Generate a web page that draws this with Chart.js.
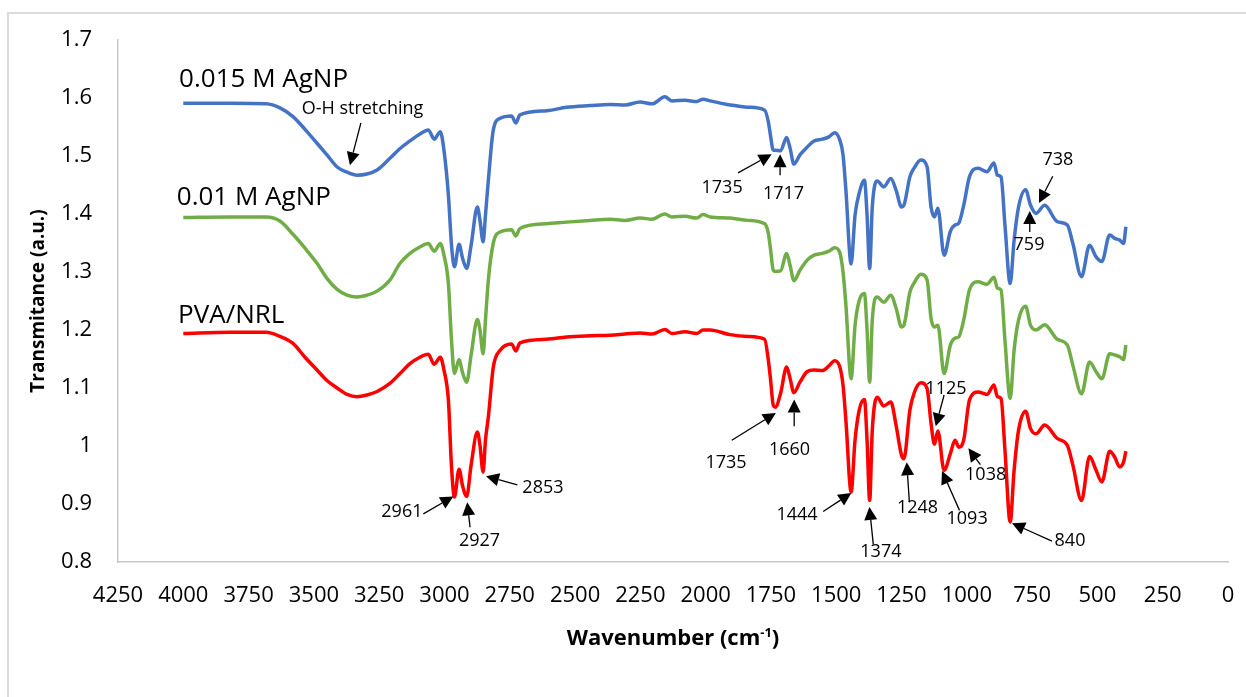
<!DOCTYPE html>
<html>
<head>
<meta charset="utf-8">
<title>FTIR spectra</title>
<script src="https://cdn.jsdelivr.net/npm/chart.js@4.4.1/dist/chart.umd.min.js"></script>
<style>
  html, body { margin: 0; padding: 0; background: #fff; }
  #wrap { position: relative; width: 1246px; height: 697px; overflow: hidden; }
  #frame { position: absolute; left: 7px; top: 12px; width: 1400px; height: 900px; border: 2px solid #dadada; box-sizing: border-box; }
  canvas { position: absolute; left: 0; top: 0; }
</style>
</head>
<body>
<div id="wrap">
  <div id="frame"></div>
  <canvas id="ftirChart" width="1246" height="697"></canvas>
</div>
<script>
// wavenumber (cm-1) shared by the three spectra
const wavenumber = [
  4000, 3821, 3683, 3630, 3580, 3534, 3488, 3450, 3411, 3373,
  3335, 3297, 3258, 3209, 3170, 3132, 3094, 3062, 3039, 3016,
  3002, 2985, 2973, 2962, 2944, 2931, 2915, 2898, 2874, 2864,
  2852, 2843, 2832, 2813, 2787, 2743, 2727, 2711, 2609, 2532,
  2443, 2366, 2309, 2251, 2205, 2156, 2129, 2079, 2034, 2010,
  1983, 1907, 1838, 1774, 1760, 1752, 1741, 1733, 1713, 1690,
  1677, 1662, 1639, 1612, 1585, 1553, 1528, 1506, 1486, 1474,
  1463, 1443, 1428, 1412, 1392, 1382, 1372, 1362, 1343, 1318,
  1291, 1271, 1250, 1241, 1218, 1202, 1176, 1152, 1137, 1124,
  1111, 1087, 1063, 1045, 1031, 1012, 990, 957, 923, 896,
  883, 869, 854, 834, 819, 802, 775, 756, 735, 702,
  654, 615, 594, 561, 530, 505, 483, 453, 434, 415,
  400, 391
];

const agnp015 = [
  1.591, 1.591, 1.590, 1.583, 1.568, 1.546, 1.522, 1.502, 1.481, 1.472,
  1.467, 1.469, 1.476, 1.496, 1.513, 1.526, 1.538, 1.545, 1.529, 1.542,
  1.510, 1.433, 1.346, 1.309, 1.348, 1.324, 1.306, 1.346, 1.412, 1.389,
  1.352, 1.398, 1.458, 1.545, 1.565, 1.569, 1.557, 1.571, 1.578, 1.584,
  1.587, 1.589, 1.588, 1.593, 1.590, 1.602, 1.595, 1.596, 1.594, 1.598,
  1.595, 1.588, 1.584, 1.579, 1.559, 1.536, 1.510, 1.510, 1.509, 1.532,
  1.514, 1.486, 1.502, 1.515, 1.526, 1.529, 1.533, 1.540, 1.527, 1.502,
  1.441, 1.314, 1.398, 1.436, 1.458, 1.398, 1.306, 1.412, 1.457, 1.447,
  1.461, 1.441, 1.412, 1.415, 1.464, 1.479, 1.493, 1.481, 1.412, 1.395,
  1.410, 1.329, 1.370, 1.381, 1.384, 1.415, 1.464, 1.479, 1.473, 1.488,
  1.467, 1.464, 1.381, 1.280, 1.355, 1.412, 1.442, 1.415, 1.401, 1.415,
  1.387, 1.381, 1.349, 1.292, 1.346, 1.326, 1.318, 1.364, 1.358, 1.355,
  1.349, 1.378
];

const agnp010 = [
  1.394, 1.395, 1.395, 1.388, 1.365, 1.341, 1.315, 1.289, 1.270, 1.260,
  1.257, 1.260, 1.267, 1.286, 1.315, 1.332, 1.343, 1.349, 1.336, 1.349,
  1.329, 1.280, 1.182, 1.125, 1.149, 1.127, 1.110, 1.157, 1.218, 1.200,
  1.159, 1.217, 1.286, 1.350, 1.369, 1.373, 1.362, 1.375, 1.383, 1.386,
  1.389, 1.391, 1.389, 1.393, 1.391, 1.400, 1.395, 1.396, 1.393, 1.399,
  1.395, 1.393, 1.389, 1.383, 1.367, 1.341, 1.303, 1.301, 1.302, 1.332,
  1.312, 1.285, 1.303, 1.320, 1.329, 1.332, 1.336, 1.342, 1.333, 1.300,
  1.243, 1.116, 1.208, 1.251, 1.263, 1.200, 1.110, 1.217, 1.257, 1.248,
  1.260, 1.238, 1.205, 1.208, 1.265, 1.281, 1.296, 1.286, 1.220, 1.205,
  1.208, 1.125, 1.174, 1.186, 1.188, 1.217, 1.269, 1.283, 1.279, 1.291,
  1.272, 1.269, 1.182, 1.082, 1.165, 1.217, 1.241, 1.208, 1.200, 1.209,
  1.184, 1.174, 1.139, 1.090, 1.145, 1.128, 1.116, 1.159, 1.157, 1.154,
  1.149, 1.174
];

const pvaNrl = [
  1.194, 1.196, 1.196, 1.189, 1.177, 1.153, 1.131, 1.113, 1.100, 1.089,
  1.085, 1.088, 1.094, 1.108, 1.125, 1.142, 1.153, 1.158, 1.141, 1.153,
  1.131, 1.079, 0.964, 0.912, 0.960, 0.932, 0.913, 0.967, 1.024, 1.001,
  0.955, 1.010, 1.050, 1.136, 1.165, 1.176, 1.164, 1.178, 1.184, 1.188,
  1.190, 1.191, 1.193, 1.195, 1.193, 1.201, 1.194, 1.197, 1.194, 1.200,
  1.200, 1.192, 1.189, 1.184, 1.148, 1.117, 1.070, 1.067, 1.091, 1.136,
  1.117, 1.092, 1.110, 1.128, 1.131, 1.130, 1.138, 1.147, 1.136, 1.105,
  1.044, 0.921, 1.010, 1.062, 1.080, 1.010, 0.906, 1.027, 1.084, 1.069,
  1.076, 1.036, 0.984, 0.978, 1.062, 1.091, 1.109, 1.099, 1.039, 1.003,
  1.026, 0.958, 0.987, 1.010, 0.998, 1.010, 1.079, 1.093, 1.089, 1.105,
  1.085, 1.082, 0.993, 0.869, 0.958, 1.027, 1.060, 1.030, 1.021, 1.036,
  1.013, 1.001, 0.967, 0.906, 0.982, 0.958, 0.938, 0.991, 0.981, 0.964,
  0.972, 0.991
];

const seriesNames = ['0.015 M AgNP', '0.01 M AgNP', 'PVA/NRL'];
const seriesColors = ['#4472C4', '#70AD47', '#FF0000'];
// where each series name is written (wavenumber, transmittance), left aligned
const seriesNamePos = [[4016, 1.631], [4025, 1.429], [4020, 1.224]];

const xTicks = [4250, 4000, 3750, 3500, 3250, 3000, 2750, 2500, 2250, 2000, 1750, 1500, 1250, 1000, 750, 500, 250, 0];
const yTicks = [0.8, 0.9, 1, 1.1, 1.2, 1.3, 1.4, 1.5, 1.6, 1.7];

// peak labels: text centre, arrow tail, arrow tip (all in data units)
const peakNotes = [
  { text: 'O-H stretching', at: [3314, 1.581], from: [3320, 1.557], to: [3362, 1.484] },
  { text: '1735', at: [1937, 1.445], from: [1876, 1.471], to: [1747, 1.503] },
  { text: '1717', at: [1702, 1.434], from: [1715, 1.467], to: [1715, 1.503] },
  { text: '738', at: [651, 1.493], from: [671, 1.465], to: [724, 1.419] },
  { text: '759', at: [762, 1.346], from: [759, 1.369], to: [759, 1.405] },
  { text: '2961', at: [3163, 0.887], from: [3081, 0.883], to: [2966, 0.913] },
  { text: '2927', at: [2866, 0.837], from: [2902, 0.860], to: [2913, 0.903] },
  { text: '2853', at: [2623, 0.928], from: [2721, 0.933], to: [2841, 0.948] },
  { text: '1735', at: [1922, 0.971], from: [1900, 1.010], to: [1731, 1.057] },
  { text: '1660', at: [1679, 0.994], from: [1661, 1.034], to: [1661, 1.080] },
  { text: '1444', at: [1650, 0.881], from: [1550, 0.887], to: [1442, 0.919] },
  { text: '1374', at: [1329, 0.818], from: [1358, 0.830], to: [1373, 0.895] },
  { text: '1248', at: [1189, 0.893], from: [1220, 0.903], to: [1230, 0.972] },
  { text: '1125', at: [1080, 1.098], from: [1087, 1.088], to: [1119, 1.034] },
  { text: '1093', at: [999, 0.875], from: [1028, 0.889], to: [1095, 0.957] },
  { text: '1038', at: [928, 0.950], from: [948, 0.968], to: [994, 0.996] },
  { text: '840', at: [605, 0.836], from: [674, 0.836], to: [827, 0.867] }
];

const FONT = "'Open Sans', 'Noto Sans', sans-serif";

function toPoints(values) {
  return wavenumber.map((w, i) => ({ x: w, y: values[i] }));
}

// draws series names, peak arrows and both axis titles
const notesPlugin = {
  id: 'notes',
  afterDatasetsDraw(chart) {
    const ctx = chart.ctx;
    const xs = chart.scales.x;
    const ys = chart.scales.y;
    const px = (p) => [xs.getPixelForValue(p[0]), ys.getPixelForValue(p[1])];

    ctx.save();
    ctx.fillStyle = '#000';
    ctx.strokeStyle = '#000';

    // series names
    ctx.font = '26px ' + FONT;
    ctx.textAlign = 'left';
    ctx.textBaseline = 'middle';
    seriesNames.forEach((name, i) => {
      const [x, y] = px(seriesNamePos[i]);
      ctx.fillText(name, x, y);
    });

    // peak labels with arrows
    ctx.font = '18px ' + FONT;
    ctx.textAlign = 'center';
    ctx.lineWidth = 1.3;
    peakNotes.forEach((n) => {
      const [tx, ty] = px(n.at);
      ctx.fillText(n.text, tx, ty);
      const [x0, y0] = px(n.from);
      const [x1, y1] = px(n.to);
      const ang = Math.atan2(y1 - y0, x1 - x0);
      const len = 13, half = 6.5;
      const bx = x1 - Math.cos(ang) * len;
      const by = y1 - Math.sin(ang) * len;
      ctx.beginPath();
      ctx.moveTo(x0, y0);
      ctx.lineTo(bx, by);
      ctx.stroke();
      ctx.beginPath();
      ctx.moveTo(x1, y1);
      ctx.lineTo(bx + Math.sin(ang) * half, by - Math.cos(ang) * half);
      ctx.lineTo(bx - Math.sin(ang) * half, by + Math.cos(ang) * half);
      ctx.closePath();
      ctx.fill();
    });

    // y axis title
    ctx.save();
    ctx.translate(44, (chart.chartArea.top + chart.chartArea.bottom) / 2);
    ctx.rotate(-Math.PI / 2);
    ctx.font = 'bold 19px ' + FONT;
    ctx.textAlign = 'center';
    ctx.textBaseline = 'alphabetic';
    ctx.fillText('Transmitance (a.u.)', 0, 0);
    ctx.restore();

    // x axis title with superscript
    const main = 'Wavenumber (cm';
    const sup = '-1';
    const tail = ')';
    ctx.textAlign = 'left';
    ctx.textBaseline = 'alphabetic';
    ctx.font = 'bold 22px ' + FONT;
    const wMain = ctx.measureText(main).width;
    const wTail = ctx.measureText(tail).width;
    ctx.font = 'bold 13px ' + FONT;
    const wSup = ctx.measureText(sup).width;
    const cx = (chart.chartArea.left + chart.chartArea.right) / 2;
    let x = cx - (wMain + wSup + wTail) / 2;
    const base = 645;
    ctx.font = 'bold 22px ' + FONT;
    ctx.fillText(main, x, base);
    x += wMain;
    ctx.font = 'bold 13px ' + FONT;
    ctx.fillText(sup, x, base - 8);
    x += wSup;
    ctx.font = 'bold 22px ' + FONT;
    ctx.fillText(tail, x, base);

    ctx.restore();
  }
};

const datasets = [agnp015, agnp010, pvaNrl].map((vals, i) => ({
  label: seriesNames[i],
  data: toPoints(vals),
  borderColor: seriesColors[i],
  backgroundColor: seriesColors[i],
  borderWidth: 3.5,
  pointRadius: 0,
  fill: false,
  cubicInterpolationMode: 'monotone'
}));

const tickFont = { family: FONT, size: 22 };

new Chart(document.getElementById('ftirChart'), {
  type: 'line',
  data: { datasets: datasets },
  options: {
    responsive: false,
    animation: false,
    layout: { padding: { left: 0, top: 40, right: 18, bottom: 75 } },
    plugins: {
      legend: { display: false },
      tooltip: { enabled: false }
    },
    scales: {
      x: {
        type: 'linear',
        reverse: true,
        min: 0,
        max: 4250,
        afterBuildTicks: (scale) => { scale.ticks = xTicks.map((v) => ({ value: v })); },
        afterFit: (scale) => {
          scale.height = 60;
          scale.paddingLeft = 0;
          scale.paddingRight = 0;
        },
        grid: { display: false, drawTicks: false },
        border: { display: true, color: '#c8c8c8', width: 1.5 },
        ticks: {
          autoSkip: false, maxRotation: 0, padding: 21, color: '#000', font: tickFont,
          callback: (v) => String(v)
        }
      },
      y: {
        type: 'linear',
        min: 0.8,
        max: 1.7,
        afterBuildTicks: (scale) => { scale.ticks = yTicks.map((v) => ({ value: v })); },
        afterFit: (scale) => {
          scale.width = 118;
          scale.paddingTop = 0;
          scale.paddingBottom = 0;
        },
        grid: { display: false, drawTicks: false },
        border: { display: true, color: '#c8c8c8', width: 1.5 },
        ticks: { padding: 26, color: '#000', font: tickFont, callback: (v) => String(v) }
      }
    }
  },
  plugins: [notesPlugin]
});
</script>
</body>
</html>
